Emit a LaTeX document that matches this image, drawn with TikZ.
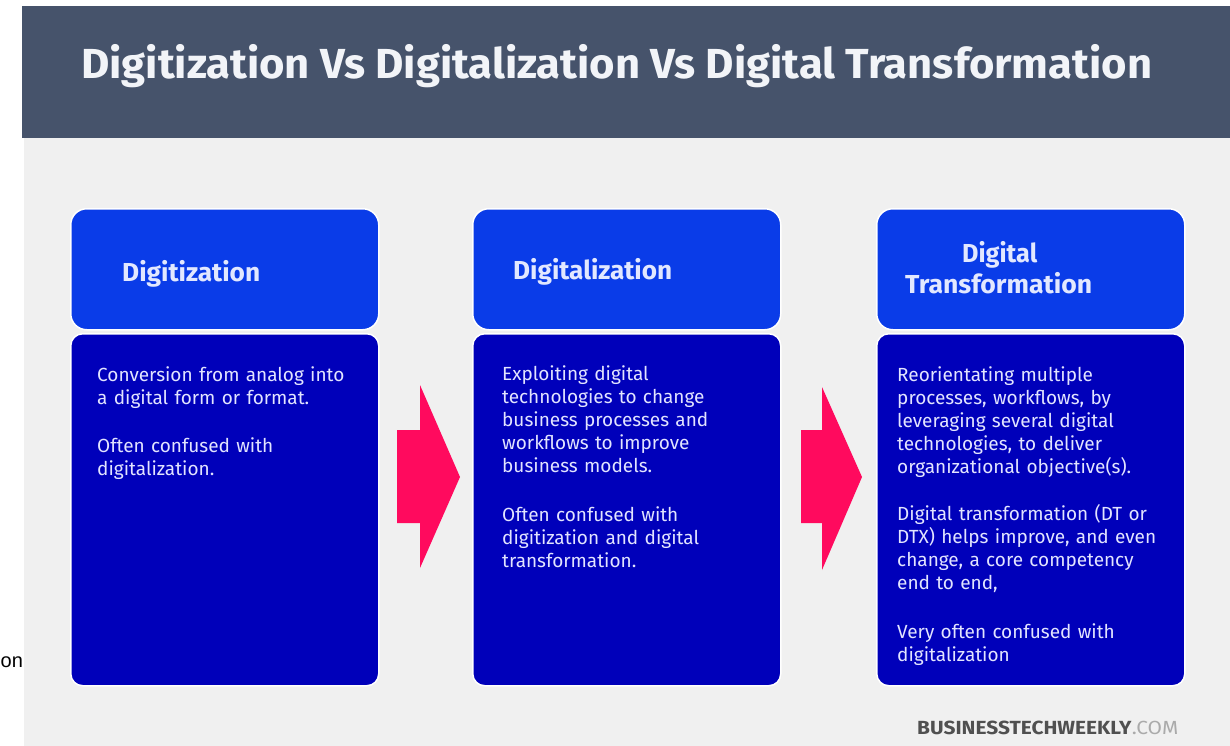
\documentclass[tikz,border=0pt]{standalone}
\usepackage{fontspec}
\setmainfont{Fira Sans}
\newfontfamily\libsans{Liberation Sans}
\usepackage{graphicx}
\definecolor{bandc}{HTML}{46536B}
\definecolor{bgc}{HTML}{F0F0F0}
\definecolor{hdrc}{HTML}{0A3CE8}
\definecolor{bodyc}{HTML}{0000BA}
\definecolor{pinkc}{HTML}{FF0A5E}
\definecolor{titletxt}{HTML}{F2F4F8}
\definecolor{hdrtxt}{HTML}{E2E8FF}
\definecolor{bodytxt}{HTML}{E2E4FF}
\definecolor{footc}{HTML}{505050}
\definecolor{comc}{HTML}{AAAAAA}
\tikzset{
  band/.style={fill=bandc, draw=none, inner sep=0, minimum width=1208pt, minimum height=132pt, anchor=north west},
  hdrbox/.style={fill=hdrc, draw=white, line width=1.5pt, rounded corners=16pt, inner sep=0, minimum width=308pt, minimum height=121pt, anchor=north west},
  bodybox/.style={fill=bodyc, draw=white, line width=1.5pt, rounded corners=12pt, inner sep=0, minimum width=308pt, minimum height=352pt, anchor=north west},
  pinkarrow/.style={fill=pinkc, draw=none},
  titletext/.style={anchor=base west, inner sep=0, text=titletxt, font=\fontsize{42}{46}\selectfont\bfseries},
  hdrtext/.style={anchor=base west, inner sep=0, text=hdrtxt, font=\fontsize{26}{30}\selectfont\bfseries},
  bodytext/.style={anchor=base west, inner sep=0, text=bodytxt, align=left, text width=300pt, font=\fontsize{19}{23}\selectfont},
  foottext/.style={anchor=base west, inner sep=0, text=footc, font=\fontsize{19}{22}\selectfont},
  fragtext/.style={anchor=base west, inner sep=0, text=black, font=\fontsize{20}{24}\libsans}
}
\begin{document}
\begin{tikzpicture}[x=1pt,y=-1pt]
\useasboundingbox (0,0) rectangle (1230,746);
\fill[white] (0,0) rectangle (1230,746);
\fill[bgc] (24,138) rectangle (1230,746);
\node[band] (band) at (22,6) {};
\node[titletext] (title) at (81,79) {\resizebox{1071pt}{\height}{Digitization Vs Digitalization Vs Digital Transformation}};

% boxes
\node[hdrbox] (h1) at (70,208) {};
\node[bodybox] (b1) at (70,333) {};
\node[hdrbox] (h2) at (472,208) {};
\node[bodybox] (b2) at (472,333) {};
\node[hdrbox] (h3) at (876,208) {};
\node[bodybox] (b3) at (876,333) {};

% arrows
\fill[pinkarrow] (397,430) -- (420,430) -- (420,385) -- (460,477) -- (420,568) -- (420,523) -- (397,523) -- cycle;
\fill[pinkarrow] (801,430) -- (822,430) -- (822,387) -- (862,477) -- (822,570) -- (822,523) -- (801,523) -- cycle;

% header texts
\node[hdrtext] (t1) at (122,281) {\resizebox{138pt}{\height}{Digitization}};
\node[hdrtext] (t2) at (513,279) {\resizebox{159pt}{\height}{Digitalization}};
\node[hdrtext] (t3a) at (962,262) {\resizebox{75pt}{\height}{Digital}};
\node[hdrtext] (t3b) at (905,293) {\resizebox{187pt}{\height}{Transformation}};

% body texts
\node[bodytext] (x1) at (97,381) {Conversion from analog into\\a digital form or format.\\[25pt]Often confused with\\digitalization.};
\node[bodytext] (x2) at (502,380) {Exploiting digital\\technologies to change\\business processes and\\workflows to improve\\business models.\\[26pt]Often confused with\\digitization and digital\\transformation.};
\node[bodytext] (x3) at (897,381) {Reorientating multiple\\processes, workflows, by\\leveraging several digital\\technologies, to deliver\\organizational objective(s).\\[24pt]Digital transformation (DT or\\DTX) helps improve, and even\\change, a core competency\\end to end,\\[26pt]Very often confused with\\digitalization};

% footer
\node[foottext] (foot) at (917,734) {\resizebox{261pt}{\height}{\textbf{BUSINESSTECHWEEKLY}\textcolor{comc}{.COM}}};

% fragment at left edge
\node[fragtext] (frag) at (0.5,667) {on};
\end{tikzpicture}
\end{document}
